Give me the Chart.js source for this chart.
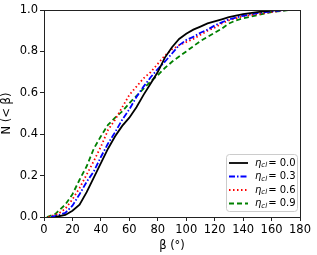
<!DOCTYPE html>
<html>
<head>
<meta charset="utf-8">
<script src="https://cdn.jsdelivr.net/npm/chart.js@4.4.1/dist/chart.umd.min.js"></script>
<style>
  html, body { margin: 0; padding: 0; background: #fff; }
  #wrap { width: 317px; height: 255px; }
</style>
</head>
<body>
<div id="wrap"><canvas id="cdfChart"></canvas></div>
<script>
// ค่าที่อ่านจากภาพ: มุม beta (องศา) และค่า N(<beta) ของแต่ละ eta_cl
const seriesLabels = ['0.0', '0.3', '0.6', '0.9'];

const beta00 = [8, 15, 20, 25, 30, 35, 40, 45, 50, 55, 60, 65, 70, 75, 80, 85, 90, 95, 100, 105, 110, 115, 120, 125, 130, 140, 150, 160, 165];
const cdf00  = [0, 0.01, 0.03, 0.06, 0.12, 0.19, 0.26, 0.33, 0.39, 0.44, 0.48, 0.53, 0.59, 0.645, 0.70, 0.77, 0.82, 0.86, 0.885, 0.905, 0.92, 0.935, 0.945, 0.955, 0.965, 0.98, 0.99, 0.997, 1.0];

const beta03 = [5, 10, 15, 20, 25, 30, 35, 40, 45, 50, 55, 60, 65, 70, 75, 80, 85, 90, 95, 100, 105, 110, 115, 120, 125, 130, 140, 150, 160, 170];
const cdf03  = [0, 0.008, 0.02, 0.055, 0.11, 0.17, 0.22, 0.29, 0.355, 0.41, 0.47, 0.52, 0.58, 0.63, 0.675, 0.715, 0.75, 0.79, 0.83, 0.855, 0.87, 0.89, 0.905, 0.925, 0.94, 0.955, 0.972, 0.985, 0.993, 1.0];

const beta06 = [3, 10, 15, 20, 25, 30, 35, 40, 45, 50, 55, 60, 65, 70, 75, 80, 85, 90, 95, 100, 105, 110, 115, 120, 125, 130, 140, 150, 160, 170];
const cdf06  = [0, 0.015, 0.04, 0.085, 0.14, 0.205, 0.27, 0.34, 0.42, 0.47, 0.53, 0.59, 0.63, 0.67, 0.70, 0.74, 0.78, 0.81, 0.83, 0.845, 0.86, 0.88, 0.90, 0.915, 0.935, 0.95, 0.97, 0.98, 0.99, 1.0];

const beta09 = [2, 8, 15, 20, 25, 30, 35, 40, 45, 50, 55, 60, 65, 70, 75, 80, 85, 90, 95, 100, 105, 110, 115, 120, 125, 130, 135, 140, 150, 160, 173];
const cdf09  = [0, 0.015, 0.06, 0.11, 0.18, 0.245, 0.33, 0.39, 0.445, 0.48, 0.51, 0.55, 0.585, 0.62, 0.655, 0.685, 0.72, 0.75, 0.775, 0.80, 0.825, 0.85, 0.87, 0.89, 0.91, 0.935, 0.95, 0.96, 0.975, 0.99, 1.0];

const xTicks = [0, 20, 40, 60, 80, 100, 120, 140, 160, 180];
const yTicks = [0.0, 0.2, 0.4, 0.6, 0.8, 1.0];

const colors = ['#000000', '#0000ff', '#ff0000', '#008000'];
const dashes = [[], [6, 2, 1.5, 2], [1.5, 2.5], [5, 3]];

function pts(xs, ys) {
    return xs.map((x, i) => ({ x: x, y: ys[i] }));
}

const allBeta = [beta00, beta03, beta06, beta09];
const allCdf = [cdf00, cdf03, cdf06, cdf09];

const datasets = seriesLabels.map((lab, i) => ({
    label: lab,
    data: pts(allBeta[i], allCdf[i]),
    borderColor: colors[i],
    borderWidth: 1.8,
    borderDash: dashes[i],
    pointRadius: 0,
    tension: 0,
    fill: false
}));

// กรอบด้านบน/ขวา + legend แบบ matplotlib (มีตัวห้อย cl)
const framePlugin = {
    id: 'frame',
    afterDraw(chart) {
        const ctx = chart.ctx;
        const a = chart.chartArea;
        ctx.save();
        ctx.strokeStyle = '#222';
        ctx.lineWidth = 1;
        ctx.setLineDash([]);
        ctx.strokeRect(a.left + 0.5, a.top + 0.5, a.right - a.left, a.bottom - a.top);

        // legend
        const bx = 226, by = 154, bw = 71, bh = 57;
        ctx.fillStyle = 'rgba(255,255,255,0.85)';
        ctx.strokeStyle = '#cccccc';
        ctx.beginPath();
        ctx.roundRect(bx + 0.5, by + 0.5, bw, bh, 3);
        ctx.fill();
        ctx.stroke();

        seriesLabels.forEach((lab, i) => {
            const y = 163 + i * 13.5;
            ctx.strokeStyle = colors[i];
            ctx.lineWidth = 1.8;
            ctx.setLineDash(dashes[i]);
            ctx.beginPath();
            ctx.moveTo(229, y);
            ctx.lineTo(248, y);
            ctx.stroke();
            ctx.setLineDash([]);

            ctx.fillStyle = '#000';
            ctx.textBaseline = 'middle';
            let x = 255;
            ctx.font = 'italic 10px "DejaVu Sans"';
            ctx.fillText('η', x, y);
            x += ctx.measureText('η').width;
            ctx.font = 'italic 7px "DejaVu Sans"';
            ctx.fillText('cl', x, y + 2.5);
            x += ctx.measureText('cl').width + 1;
            ctx.font = '10px "DejaVu Sans"';
            ctx.fillText('= ' + lab, x, y);
        });
        ctx.restore();
    }
};

const ctx = document.getElementById('cdfChart').getContext('2d');
const cdfChart = new Chart(ctx, {
    type: 'line',
    data: { datasets: datasets },
    options: {
        responsive: true,
        maintainAspectRatio: false,
        animation: false,
        layout: { padding: { top: 10, right: 17, left: 0, bottom: 0 } },
        plugins: {
            legend: { display: false },
            tooltip: { enabled: false }
        },
        scales: {
            x: {
                type: 'linear',
                min: 0,
                max: 180,
                afterBuildTicks: s => { s.ticks = xTicks.map(v => ({ value: v })); },
                afterFit: s => { s.height = 38; },
                grid: { display: true, drawOnChartArea: false, drawTicks: true, tickLength: 4, color: '#222' },
                border: { display: true, color: '#222' },
                ticks: {
                    color: '#000',
                    padding: 2,
                    maxRotation: 0,
                    font: { family: 'DejaVu Sans', size: 11.5 }
                },
                title: {
                    display: true,
                    text: 'β (°)',
                    color: '#000',
                    padding: { top: 0, bottom: 2 },
                    font: { family: 'DejaVu Sans', size: 11.5 }
                }
            },
            y: {
                type: 'linear',
                min: 0,
                max: 1,
                afterBuildTicks: s => { s.ticks = yTicks.map(v => ({ value: v })); },
                afterFit: s => { s.width = 44; },
                grid: { display: true, drawOnChartArea: false, drawTicks: true, tickLength: 4, color: '#222' },
                border: { display: true, color: '#222' },
                ticks: {
                    color: '#000',
                    padding: 2,
                    callback: v => v.toFixed(1),
                    font: { family: 'DejaVu Sans', size: 11.5 }
                },
                title: {
                    display: true,
                    text: 'N (< β)',
                    color: '#000',
                    padding: { top: 0, bottom: 0 },
                    font: { family: 'DejaVu Sans', size: 11.5 }
                }
            }
        }
    },
    plugins: [framePlugin]
});
</script>
</body>
</html>
